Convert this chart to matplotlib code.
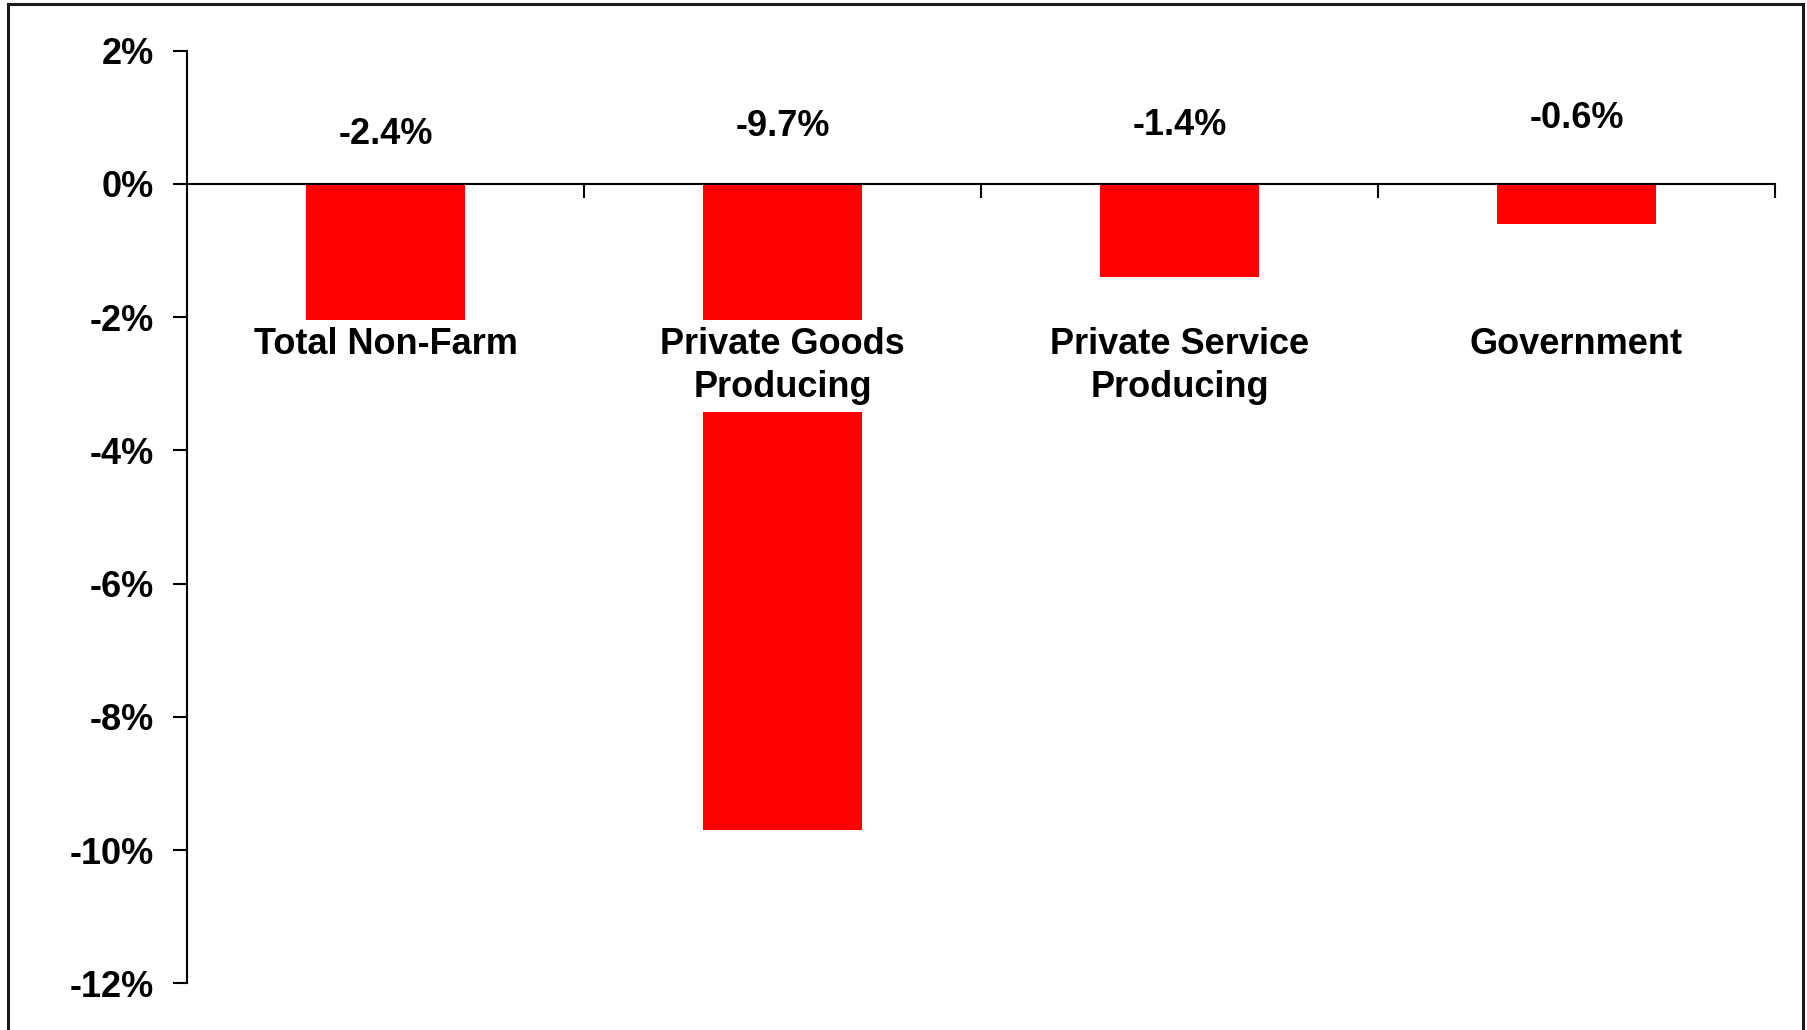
import matplotlib
matplotlib.use("Agg")
import matplotlib.pyplot as plt
from matplotlib.patches import Rectangle

# ---- data ----
categories = ["Total Non-Farm", "Private Goods\nProducing", "Private Service\nProducing", "Government"]
values = [-2.4, -9.7, -1.4, -0.6]
value_labels = ["-2.4%", "-9.7%", "-1.4%", "-0.6%"]
yticks = [2, 0, -2, -4, -6, -8, -10, -12]
ytick_labels = ["2%", "0%", "-2%", "-4%", "-6%", "-8%", "-10%", "-12%"]

# ---- layout / style ----
label_y = [0.74, 0.86, 0.88, 0.98]   # vertical placement of value labels (layout)
cat_label_y = -2.15                  # top of category label boxes (layout)
FS = 26
plt.rcParams['font.family'] = ['Liberation Sans', 'DejaVu Sans']
plt.rcParams['font.weight'] = 'bold'

W, H = 1808, 1030
fig = plt.figure(figsize=(W / 100, H / 100), dpi=100)
fig.patch.set_facecolor('white')

x0, x1 = 187, 1775
ytop, ybot = 50.7, 983.5
ax = fig.add_axes([x0 / W, 1 - ybot / H, (x1 - x0) / W, (ybot - ytop) / H])

xs = list(range(len(categories)))
ax.bar(xs, values, width=0.4, color='#FF0000', zorder=2)

ax.set_xlim(-0.5, len(categories) - 0.5)
ax.set_ylim(-12, 2)

for s in ['top', 'right']:
    ax.spines[s].set_visible(False)
ax.spines['bottom'].set_position(('data', 0))
ax.spines['bottom'].set_zorder(4)
for s in ['left', 'bottom']:
    ax.spines[s].set_linewidth(1.5)
    ax.spines[s].set_color('black')

ax.set_xticks([i + 0.5 for i in xs])
ax.set_xticklabels([])
ax.tick_params(axis='x', direction='out', length=10, width=1.5, color='black')

ax.set_yticks(yticks)
ax.set_yticklabels(ytick_labels, fontsize=FS, fontweight='bold')
ax.tick_params(axis='y', direction='out', length=10, width=1.5, pad=14, color='black')

for i, (cat, lab) in enumerate(zip(categories, value_labels)):
    ax.text(i, label_y[i], lab, ha='center', va='center', fontsize=FS,
            fontweight='bold', zorder=5)
    ax.text(i, cat_label_y, cat, ha='center', va='top', fontsize=FS,
            fontweight='bold', linespacing=1.28, zorder=5,
            bbox=dict(boxstyle='square,pad=0.2', facecolor='white', edgecolor='none'))

# figure frame
frame = Rectangle((8 / W, -0.05), (1803 - 8) / W, 1.05 - 4 / H,
                  transform=fig.transFigure, fill=False, edgecolor='#1a1a1a',
                  linewidth=2.2, clip_on=False)
fig.patches.append(frame)

fig.savefig("out.png", dpi=100, facecolor='white')
